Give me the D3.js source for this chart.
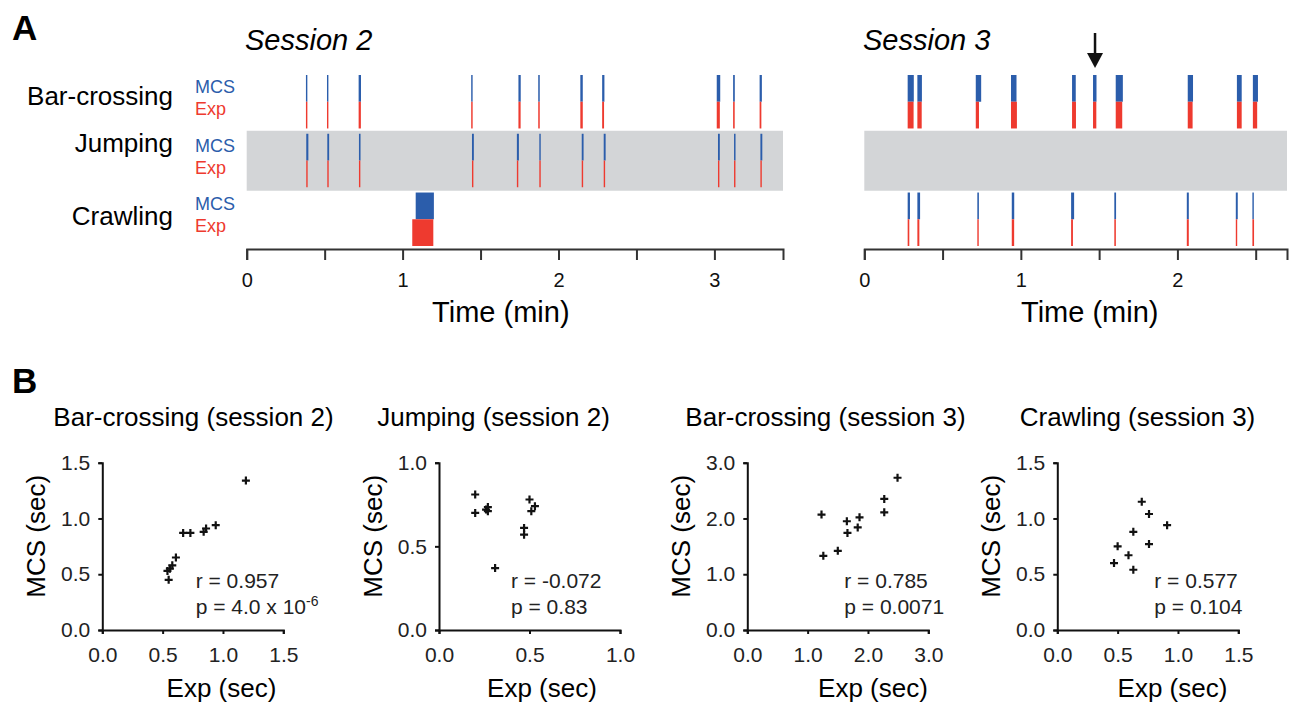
<!DOCTYPE html>
<html lang="en">
<head>
<meta charset="UTF-8">
<title>MCS vs Exp</title>
<script src="https://d3js.org/d3.v7.min.js"></script>
<style>
body { margin: 0; background: #fff; }
svg { display: block; font-family: "Liberation Sans", Arial, sans-serif; }
.domain { stroke-width: 2px; }
</style>
</head>
<body>
<script>
// ---- data (onsets in min, durations in sec) ----
const rows = ["Bar-crossing", "Jumping", "Crawling"];

// session 2
const s2BarOnset = [0.38, 0.515, 0.718, 1.44, 1.743, 1.87, 2.14, 2.28, 3.015, 3.12, 3.29];
const s2BarExp = [0.55, 0.54, 0.86, 0.56, 0.84, 0.58, 0.94, 0.73, 1.19, 0.61, 0.67];
const s2BarMcs = [0.45, 0.53, 0.91, 0.55, 0.88, 0.58, 0.94, 0.87, 1.34, 0.65, 0.87];

const s2JumpOnset = [0.382, 0.517, 0.72, 1.445, 1.733, 1.877, 2.149, 2.29, 3.023, 3.126, 3.295];
const s2JumpExp = [0.20, 0.27, 0.47, 0.26, 0.50, 0.31, 0.51, 0.53, 0.20, 0.47, 0.27];
const s2JumpMcs = [0.81, 0.71, 0.61, 0.72, 0.78, 0.37, 0.71, 0.74, 0.70, 0.57, 0.735];

const s2CrawlOnset = [1.062];
const s2CrawlMcsOnset = [1.084];
const s2CrawlExp = [8.1];
const s2CrawlMcs = [7.0];

// session 3
const s3BarOnset = [0.277, 0.339, 0.712, 0.937, 1.327, 1.461, 1.606, 2.066, 2.38, 2.482];
const s3BarExp = [2.27, 1.66, 1.23, 2.27, 1.50, 1.26, 2.49, 1.86, 1.83, 1.65];
const s3BarMcs = [2.35, 1.74, 2.07, 2.11, 1.42, 1.33, 2.73, 2.02, 1.84, 1.95];

const s3CrawlOnset = [0.277, 0.339, 0.722, 0.942, 1.321, 1.597, 2.06, 2.373, 2.479];
const s3CrawlExp = [0.63, 0.76, 0.47, 0.91, 0.70, 0.59, 0.76, 0.50, 0.63];
const s3CrawlMcs = [0.88, 1.04, 0.60, 0.94, 1.15, 0.67, 0.77, 0.75, 0.54];

const arrowEvent = 5; // index in s3BarOnset

// scatter panels
const scatterTitles = ["Bar-crossing (session 2)", "Jumping (session 2)", "Bar-crossing (session 3)", "Crawling (session 3)"];
const scatterMax = [1.5, 1.0, 3.0, 1.5];
const scatterTicks = [[0, 0.5, 1, 1.5], [0, 0.5, 1], [0, 1, 2, 3], [0, 0.5, 1, 1.5]];
const rValues = ["r = 0.957", "r = -0.072", "r = 0.785", "r = 0.577"];
const pValues = ["p = 4.0 x 10", "p = 0.83", "p = 0.0071", "p = 0.104"];
const pExponents = ["-6", "", "", ""];

const blue = "#2b5dab", red = "#ee3a2f", grey = "#d3d5d7", axisCol = "#333";

const W = 1293, H = 704;
const svg = d3.select("body").append("svg").attr("width", W).attr("height", H);

// ---------------- Panel A ----------------
svg.append("text").attr("x", 12).attr("y", 40).attr("font-size", 35).attr("font-weight", "bold").text("A");

const rowY = d3.scaleBand().domain(rows).range([75, 246]).paddingInner(0.09);
const bw = rowY.bandwidth(), half = bw / 2;

const x2 = d3.scaleLinear().domain([0, 3.44]).range([246.7, 783]);
const x3 = d3.scaleLinear().domain([0, 2.70]).range([864.3, 1287]);

function band(x) {
  svg.append("rect").attr("x", x.range()[0]).attr("y", rowY("Jumping") - 3)
    .attr("width", x.range()[1] - x.range()[0]).attr("height", bw + 6.5).attr("fill", grey);
}
band(x2);
band(x3);

function events(x, row, onset, exp, mcs, mcsOnset) {
  const g = svg.append("g");
  const y0 = rowY(row);
  const w = (t, d) => Math.max(1.4, x(t + d / 60) - x(t));
  g.selectAll(".mcs").data(mcs).join("rect").attr("class", "mcs")
    .attr("x", (d, i) => x((mcsOnset || onset)[i]))
    .attr("width", (d, i) => w((mcsOnset || onset)[i], d))
    .attr("y", y0).attr("height", half).attr("fill", blue);
  g.selectAll(".exp").data(exp).join("rect").attr("class", "exp")
    .attr("x", (d, i) => x(onset[i]))
    .attr("width", (d, i) => w(onset[i], d))
    .attr("y", y0 + half).attr("height", half).attr("fill", red);
}
events(x2, "Bar-crossing", s2BarOnset, s2BarExp, s2BarMcs);
events(x2, "Jumping", s2JumpOnset, s2JumpExp, s2JumpMcs);
events(x2, "Crawling", s2CrawlOnset, s2CrawlExp, s2CrawlMcs, s2CrawlMcsOnset);
events(x3, "Bar-crossing", s3BarOnset, s3BarExp, s3BarMcs);
events(x3, "Crawling", s3CrawlOnset, s3CrawlExp, s3CrawlMcs);

// row labels
const rowLabelDy = { "Bar-crossing": 21, "Jumping": 9.5, "Crawling": 23.5 };
rows.forEach(r => {
  svg.append("text").attr("x", 173).attr("y", rowY(r) + rowLabelDy[r])
    .attr("dy", "0.35em").attr("text-anchor", "end").attr("font-size", 26).text(r);
  svg.append("text").attr("x", 195).attr("y", rowY(r) + 11.5).attr("dy", "0.35em")
    .attr("font-size", 18).attr("fill", blue).text("MCS");
  svg.append("text").attr("x", 195).attr("y", rowY(r) + 33.5).attr("dy", "0.35em")
    .attr("font-size", 18).attr("fill", red).text("Exp");
});

// time axes
function timeAxis(x, labelAt) {
  const max = x.domain()[1];
  const g = svg.append("g").attr("transform", "translate(0,249)")
    .call(d3.axisBottom(x).tickValues(d3.range(0, max, 0.5))
      .tickFormat(d => d % 1 === 0 ? d : "").tickSizeOuter(0).tickSize(11).tickPadding(13));
  g.selectAll("path, line").attr("stroke", axisCol).attr("stroke-width", 2);
  g.selectAll("text").attr("font-size", 20).attr("fill", "#111").style("font-family", "inherit");
  svg.append("text").attr("x", x(labelAt)).attr("y", 322).attr("text-anchor", "middle")
    .attr("font-size", 29).text("Time (min)");
}
timeAxis(x2, 1.63);
timeAxis(x3, 1.44);

svg.append("text").attr("x", 245).attr("y", 50).attr("font-size", 29).attr("font-style", "italic").text("Session 2");
svg.append("text").attr("x", 863).attr("y", 50).attr("font-size", 29).attr("font-style", "italic").text("Session 3");

// arrow
{
  const ax = x3(s3BarOnset[arrowEvent]) + 2;
  svg.append("line").attr("x1", ax).attr("x2", ax).attr("y1", 33).attr("y2", 56)
    .attr("stroke", "#111").attr("stroke-width", 2.5);
  svg.append("path").attr("d", `M${ax - 8},53 L${ax + 8},53 L${ax},68 Z`).attr("fill", "#111");
}

// ---------------- Panel B ----------------
svg.append("text").attr("x", 12).attr("y", 393).attr("font-size", 35).attr("font-weight", "bold").text("B");

const scatterData = [
  [s2BarExp, s2BarMcs],
  [s2JumpExp, s2JumpMcs],
  [s3BarExp, s3BarMcs],
  [s3CrawlExp, s3CrawlMcs]
];
const plotLeft = [102.3, 439, 747.3, 1057.3];
const plotW = 181, plotTop = 462.7, plotBottom = 630;
const titleX = [193.5, 493.5, 825.5, 1137.5];
const xLabelX = [221.5, 542, 873, 1172.5];
const statDx = [93.4, 72, 97, 97];

scatterData.forEach(([ex, mc], k) => {
  const sx = d3.scaleLinear().domain([0, scatterMax[k]]).range([plotLeft[k], plotLeft[k] + plotW]);
  const sy = d3.scaleLinear().domain([0, scatterMax[k]]).range([plotBottom, plotTop]);
  const fmt = d3.format(".1f");

  const gx = svg.append("g").attr("transform", `translate(0,${plotBottom})`)
    .call(d3.axisBottom(sx).tickValues(scatterTicks[k]).tickFormat(fmt).tickSizeOuter(0).tickSize(4).tickPadding(13));
  const gy = svg.append("g").attr("transform", `translate(${plotLeft[k]},0)`)
    .call(d3.axisLeft(sy).tickValues(scatterTicks[k]).tickFormat(fmt).tickSizeOuter(0).tickSize(4).tickPadding(8));
  [gx, gy].forEach(g => {
    g.selectAll("path, line").attr("stroke", "#111").attr("stroke-width", 2);
    g.selectAll("text").attr("font-size", 21).attr("fill", "#222").style("font-family", "inherit");
  });

  const pts = ex.map((e, i) => [e, mc[i]]);
  svg.append("g").selectAll("path").data(pts).join("path")
    .attr("d", d => {
      const cx = sx(d[0]), cy = sy(d[1]), r = 4;
      return `M${cx - r},${cy}H${cx + r}M${cx},${cy - r}V${cy + r}`;
    })
    .attr("stroke", "#111").attr("stroke-width", 2.2).attr("fill", "none");

  svg.append("text").attr("x", titleX[k]).attr("y", 426).attr("text-anchor", "middle")
    .attr("font-size", 26).text(scatterTitles[k]);
  svg.append("text").attr("x", xLabelX[k]).attr("y", 697).attr("text-anchor", "middle")
    .attr("font-size", 26).text("Exp (sec)");
  svg.append("text").attr("transform", `translate(${plotLeft[k] - 57},${(plotTop + plotBottom) / 2 - 10}) rotate(-90)`)
    .attr("text-anchor", "middle").attr("font-size", 26).text("MCS (sec)");

  const tx = plotLeft[k] + statDx[k];
  svg.append("text").attr("x", tx).attr("y", 588).attr("font-size", 21).attr("fill", "#222").text(rValues[k]);
  const pt = svg.append("text").attr("x", tx).attr("y", 614).attr("font-size", 21).attr("fill", "#222").text(pValues[k]);
  if (pExponents[k]) pt.append("tspan").attr("dy", -8).attr("font-size", 14).text(pExponents[k]);
});
</script>
</body>
</html>
